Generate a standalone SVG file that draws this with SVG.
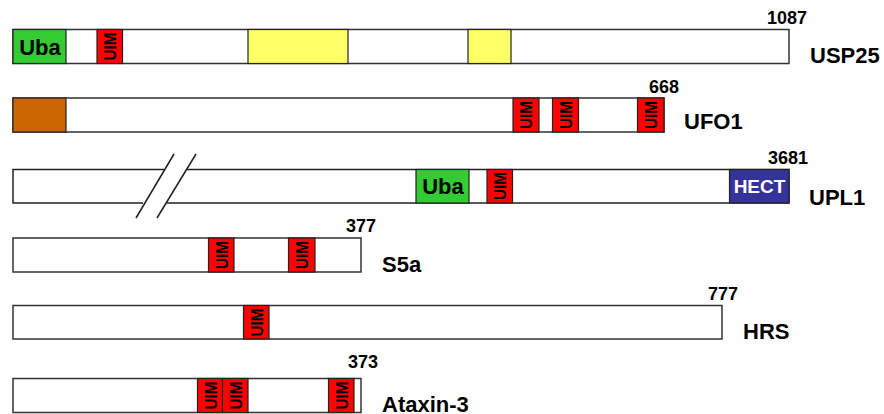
<svg xmlns="http://www.w3.org/2000/svg" width="884" height="414" viewBox="0 0 884 414">
<style>
.bar{fill:#fff;stroke:#333;stroke-width:1.5}
.dom{stroke:#222;stroke-width:1.2}
.uim{fill:#f00;stroke:#222;stroke-width:1.2}
.uimt{font-family:"Liberation Sans",Arial,sans-serif;font-weight:bold;font-size:17px;fill:#000;text-anchor:middle}
.dt{font-family:"Liberation Sans",Arial,sans-serif;font-weight:bold;font-size:22px;text-anchor:middle}
.num{font-family:"Liberation Sans",Arial,sans-serif;font-weight:bold;font-size:18px;text-anchor:end;fill:#000}
.name{font-family:"Liberation Sans",Arial,sans-serif;font-weight:bold;font-size:22px;fill:#000}
.ln{stroke:#222;stroke-width:1.5;fill:none}
</style>
<g id="USP25">
<rect class="bar" x="13" y="29.5" width="776" height="34"/>
<rect class="dom" x="13" y="29.5" width="53" height="34" fill="#33cc33"/>
<text class="dt" x="40" y="54.5">Uba</text>
<rect class="uim" x="97" y="29.5" width="25.5" height="34"/>
<text class="uimt" transform="translate(116,46.5) rotate(-90)" textLength="28" lengthAdjust="spacingAndGlyphs">UIM</text>
<rect class="dom" x="248" y="29.5" width="100" height="34" fill="#ffff66"/>
<rect class="dom" x="468" y="29.5" width="43" height="34" fill="#ffff66"/>
<text class="num" x="807" y="24">1087</text>
<text class="name" x="810" y="63">USP25</text>
</g>
<g id="UFO1">
<rect class="bar" x="13" y="98" width="651" height="34"/>
<rect class="dom" x="13" y="98" width="53" height="34" fill="#cc6600"/>
<rect class="uim" x="513" y="98" width="26" height="34"/>
<text class="uimt" transform="translate(532,115) rotate(-90)" textLength="28" lengthAdjust="spacingAndGlyphs">UIM</text>
<rect class="uim" x="552.5" y="98" width="26" height="34"/>
<text class="uimt" transform="translate(571.5,115) rotate(-90)" textLength="28" lengthAdjust="spacingAndGlyphs">UIM</text>
<rect class="uim" x="637.5" y="98" width="26.5" height="34"/>
<text class="uimt" transform="translate(656.5,115) rotate(-90)" textLength="28" lengthAdjust="spacingAndGlyphs">UIM</text>
<text class="num" x="679" y="93">668</text>
<text class="name" x="684" y="129">UFO1</text>
</g>
<g id="UPL1">
<rect x="13" y="169.5" width="776" height="33.5" fill="#fff"/>
<polyline class="ln" points="164,169.5 13,169.5 13,203 143,203"/>
<polyline class="ln" points="187,169.5 789,169.5 789,203 167,203"/>
<line class="ln" x1="136" y1="218" x2="174" y2="154"/>
<line class="ln" x1="157" y1="218" x2="196" y2="154"/>
<rect class="dom" x="416" y="169.5" width="53" height="33.5" fill="#33cc33"/>
<text class="dt" x="443" y="194">Uba</text>
<rect class="uim" x="487" y="169.5" width="25.5" height="33.5"/>
<text class="uimt" transform="translate(506,186) rotate(-90)" textLength="28" lengthAdjust="spacingAndGlyphs">UIM</text>
<rect class="dom" x="729.5" y="169.5" width="59.5" height="33.5" fill="#333399"/>
<text class="dt" x="759.5" y="193" fill="#fff" style="font-size:19px">HECT</text>
<text class="num" x="808" y="164">3681</text>
<text class="name" x="809" y="205">UPL1</text>
</g>
<g id="S5a">
<rect class="bar" x="13" y="238" width="348" height="34"/>
<rect class="uim" x="208.5" y="238" width="25.5" height="34"/>
<text class="uimt" transform="translate(227.5,255) rotate(-90)" textLength="28" lengthAdjust="spacingAndGlyphs">UIM</text>
<rect class="uim" x="288.5" y="238" width="26.5" height="34"/>
<text class="uimt" transform="translate(308,255) rotate(-90)" textLength="28" lengthAdjust="spacingAndGlyphs">UIM</text>
<text class="num" x="376" y="232">377</text>
<text class="name" x="382" y="272">S5a</text>
</g>
<g id="HRS">
<rect class="bar" x="13" y="305.5" width="709" height="33.5"/>
<rect class="uim" x="243.5" y="305.5" width="25.5" height="33.5"/>
<text class="uimt" transform="translate(262.5,322.5) rotate(-90)" textLength="28" lengthAdjust="spacingAndGlyphs">UIM</text>
<text class="num" x="738" y="300">777</text>
<text class="name" x="743" y="339">HRS</text>
</g>
<g id="Ataxin-3">
<rect class="bar" x="13" y="378.5" width="348" height="34"/>
<rect class="uim" x="197.5" y="378.5" width="25" height="34"/>
<text class="uimt" transform="translate(216.5,395.5) rotate(-90)" textLength="28" lengthAdjust="spacingAndGlyphs">UIM</text>
<rect class="uim" x="222.5" y="378.5" width="25.5" height="34"/>
<text class="uimt" transform="translate(241.5,395.5) rotate(-90)" textLength="28" lengthAdjust="spacingAndGlyphs">UIM</text>
<rect class="uim" x="328.5" y="378.5" width="25.5" height="34"/>
<text class="uimt" transform="translate(347.5,395.5) rotate(-90)" textLength="28" lengthAdjust="spacingAndGlyphs">UIM</text>
<text class="num" x="378" y="368">373</text>
<text class="name" x="382" y="412">Ataxin-3</text>
</g>
<g id="connectors"></g>
</svg>
